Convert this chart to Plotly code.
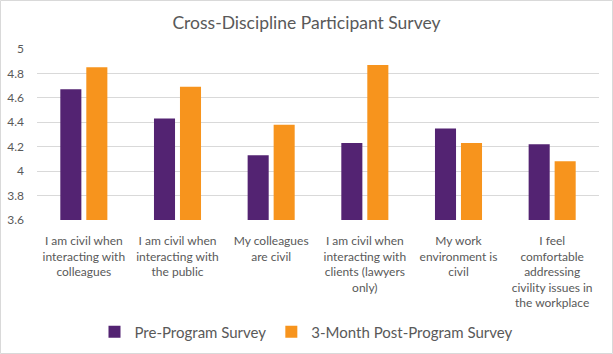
import plotly.graph_objects as go

categories = [
    "I am civil when<br>interacting with<br>colleagues",
    "I am civil when<br>interacting with<br>the public",
    "My colleagues<br>are civil",
    "I am civil when<br>interacting with<br>clients (lawyers<br>only)",
    "My work<br>environment is<br>civil",
    "I feel<br>comfortable<br>addressing<br>civility issues in<br>the workplace",
]
pre_values = [4.67, 4.43, 4.13, 4.23, 4.35, 4.22]
post_values = [4.85, 4.69, 4.38, 4.87, 4.23, 4.08]
series_names = ["Pre-Program Survey", "3-Month Post-Program Survey"]
y_ticks = [3.6, 3.8, 4.0, 4.2, 4.4, 4.6, 4.8, 5.0]
y_tick_labels = ["3.6", "3.8", "4", "4.2", "4.4", "4.6", "4.8", "5"]

FONT = "Lato"
GRAY = "#595959"

fig = go.Figure()
fig.add_trace(go.Bar(x=categories, y=pre_values, name=series_names[0],
                     marker_color="#532372", marker_line_width=0))
fig.add_trace(go.Bar(x=categories, y=post_values, name=series_names[1],
                     marker_color="#F7941D", marker_line_width=0))

W, H = 613, 354
ml, mr, mt, mb = 37, 14, 49, 134
pw, ph = W - ml - mr, H - mt - mb

def px_to_paper_x(px):
    return (px - ml) / pw

def px_to_paper_y(py):
    return (H - mb - py) / ph

fig.update_layout(
    width=W, height=H,
    margin=dict(l=ml, r=mr, t=mt, b=mb, pad=0, autoexpand=False),
    paper_bgcolor="white", plot_bgcolor="white",
    barmode="group", bargap=0.445, bargroupgap=0.19,
    font=dict(family=FONT, color=GRAY, size=12),
    title=dict(text="Cross-Discipline Participant Survey",
               x=0.5, xanchor="center", xref="container",
               y=1 - 23 / H, yanchor="middle",
               font=dict(family=FONT, size=17.5, color=GRAY)),
    showlegend=True,
    legend=dict(orientation="h", x=0.5, xanchor="center", xref="container",
                y=1 - 332 / H, yanchor="middle", yref="container",
                font=dict(family=FONT, size=15, color=GRAY),
                itemwidth=30, traceorder="normal"),
    xaxis=dict(showgrid=False, showline=False, ticks="", zeroline=False,
               tickfont=dict(family=FONT, size=12, color=GRAY),
               tickangle=0, ticklabelstandoff=12, automargin=False),
    yaxis=dict(range=[3.6, 5.0], tickvals=y_ticks, ticktext=y_tick_labels,
               showgrid=True, gridcolor="#d9d9d9", gridwidth=1,
               zeroline=False, showline=False, ticks="",
               tickfont=dict(family=FONT, size=12, color=GRAY),
               ticklabelstandoff=12, automargin=False),
    shapes=[dict(type="rect", xref="paper", yref="paper",
                 x0=px_to_paper_x(0.5), x1=px_to_paper_x(612.5),
                 y0=px_to_paper_y(353.5), y1=px_to_paper_y(0.5),
                 line=dict(color="#d9d9d9", width=1), layer="below")],
)

fig.write_html("out.html")
